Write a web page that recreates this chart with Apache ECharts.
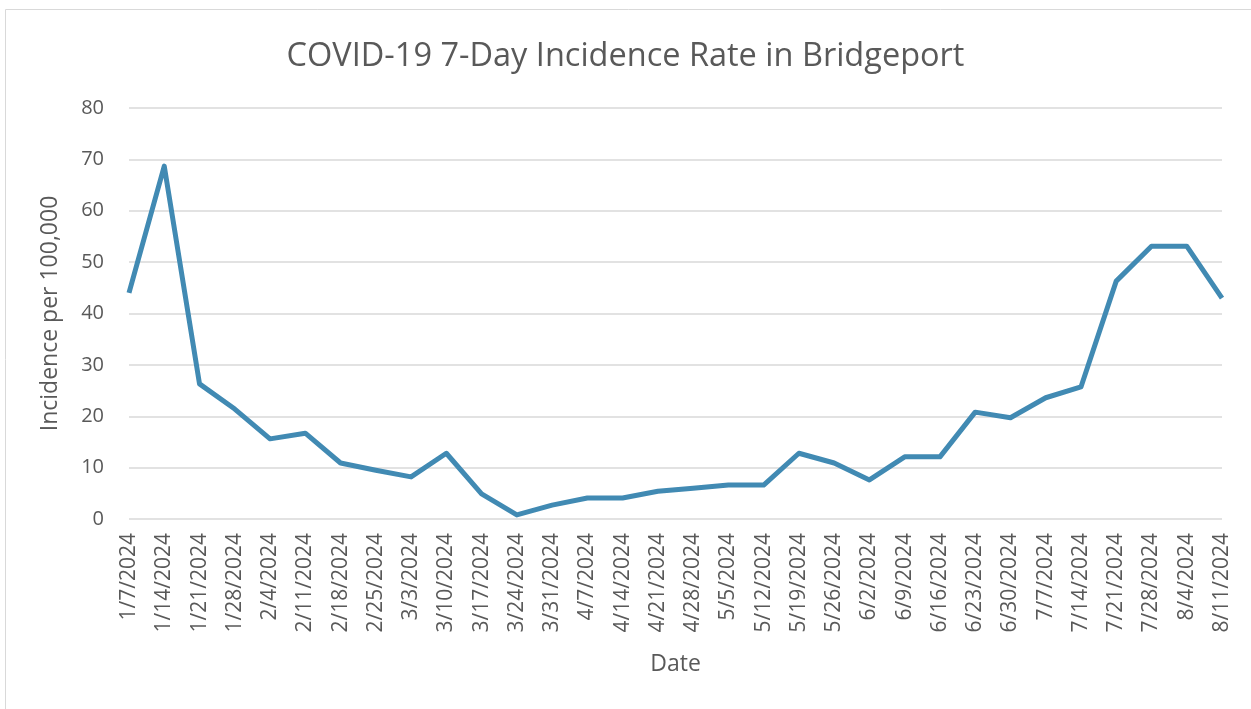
<!DOCTYPE html>
<html>
<head>
<meta charset="utf-8">
<script src="https://cdn.jsdelivr.net/npm/echarts@6/dist/echarts.min.js"></script>
<style>
  html, body { margin: 0; padding: 0; background: #fff; }
  #chart { width: 1251px; height: 709px; }
</style>
</head>
<body>
<div id="chart"></div>
<script>
const dates = [
  '1/7/2024', '1/14/2024', '1/21/2024', '1/28/2024', '2/4/2024', '2/11/2024', '2/18/2024', '2/25/2024',
  '3/3/2024', '3/10/2024', '3/17/2024', '3/24/2024', '3/31/2024', '4/7/2024', '4/14/2024', '4/21/2024',
  '4/28/2024', '5/5/2024', '5/12/2024', '5/19/2024', '5/26/2024', '6/2/2024', '6/9/2024', '6/16/2024',
  '6/23/2024', '6/30/2024', '7/7/2024', '7/14/2024', '7/21/2024', '7/28/2024', '8/4/2024', '8/11/2024'
]
const incidence = [
  44.0, 68.7, 26.3, 21.4, 15.6, 16.7, 10.9, 9.5,
  8.2, 12.8, 4.9, 0.8, 2.7, 4.1, 4.1, 5.4,
  6.0, 6.6, 6.6, 12.8, 10.9, 7.6, 12.1, 12.1,
  20.8, 19.7, 23.6, 25.7, 46.3, 53.1, 53.1, 43.0
]

const FONT = '"Open Sans", Lato, sans-serif'
const chart = echarts.init(document.getElementById('chart'))

chart.setOption({
  animation: false,
  title: {
    text: 'COVID-19 7-Day Incidence Rate in Bridgeport',
    left: 'center',
    top: 35,
    textStyle: { fontFamily: FONT, fontSize: 32.5, fontWeight: 'normal', color: '#595959' }
  },
  graphic: [{
    type: 'rect',
    shape: { x: 5.5, y: 9.5, width: 1250, height: 700 },
    style: { fill: 'none', stroke: '#d9d9d9', lineWidth: 1 },
    silent: true
  }],
  grid: { left: 129, right: 29, top: 108, bottom: 190 },
  xAxis: {
    type: 'category',
    data: dates,
    boundaryGap: false,
    name: 'Date',
    nameLocation: 'middle',
    nameGap: 134,
    nameTextStyle: { fontFamily: FONT, fontSize: 23, color: '#595959' },
    axisLine: { show: false },
    axisTick: { show: false },
    axisLabel: {
      interval: 0,
      rotate: 90,
      margin: 14,
      fontFamily: FONT,
      fontSize: 21,
      color: '#595959'
    }
  },
  yAxis: {
    type: 'value',
    min: 0,
    max: 80,
    interval: 10,
    name: 'Incidence per 100,000',
    nameLocation: 'middle',
    nameGap: 67,
    nameTextStyle: { fontFamily: FONT, fontSize: 23, color: '#595959' },
    axisLabel: { fontFamily: FONT, fontSize: 20, color: '#595959', margin: 25 },
    splitLine: { lineStyle: { color: '#d9d9d9', width: 1.5 } }
  },
  series: [{
    type: 'line',
    data: incidence,
    showSymbol: false,
    lineStyle: { color: '#418ab3', width: 5, join: 'round' }
  }]
})
</script>
</body>
</html>
